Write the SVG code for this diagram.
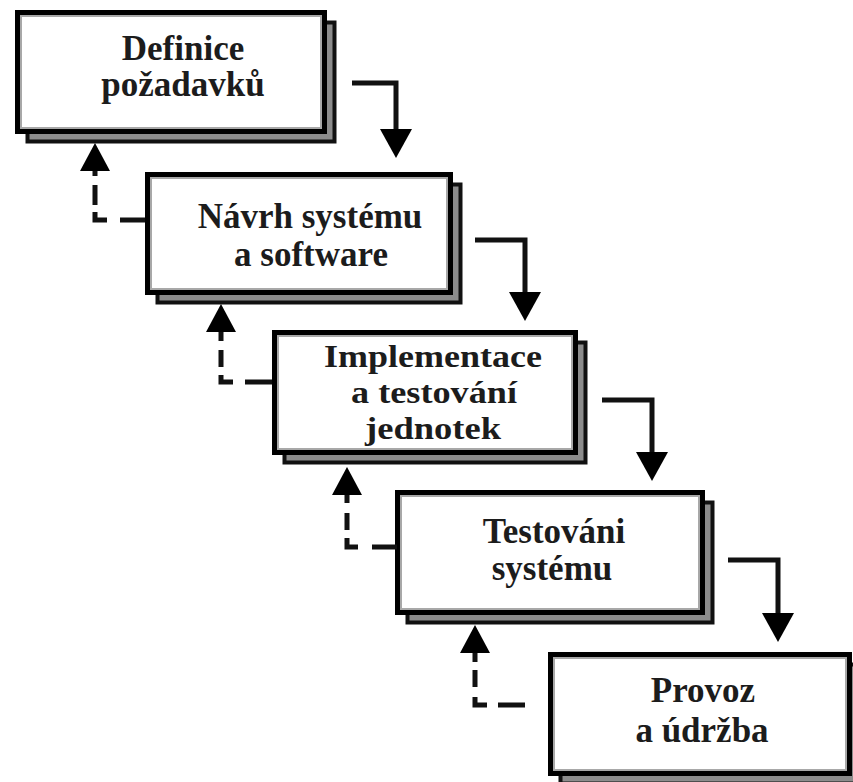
<svg xmlns="http://www.w3.org/2000/svg" xmlns:xlink="http://www.w3.org/1999/xlink" width="853" height="782" viewBox="0 0 853 782">
  <style>
    .shadow { fill: #8c8c8c; stroke: #111; stroke-width: 4; }
    .front { fill: #fff; stroke: #000; stroke-width: 5; }
    .inner { fill: none; stroke: #a8a8a8; stroke-width: 2; }
    .label { font-family: "Liberation Serif", "Times New Roman", serif; font-weight: bold; font-size: 35px; fill: #1c1c1c; text-anchor: middle; }
    .tight { font-size: 32px; }
    .flow { fill: none; stroke: #111; stroke-width: 5; stroke-linejoin: miter; stroke-linecap: butt; }
    .back { fill: none; stroke: #111; stroke-width: 5; stroke-linecap: butt; }
    .head { fill: #000; }
  </style>
  <defs>
    <polygon id="headDown" points="-16,0 16,0 0,29"/>
    <polygon id="headUp" points="-15,0 15,0 0,-28"/>
  </defs>
  <rect width="853" height="782" fill="#fff"/>

  <g id="node-definice">
    <rect class="shadow" x="27.5" y="22.5" width="307" height="119"/>
    <rect class="front" x="17.5" y="12.5" width="307" height="119"/>
    <rect class="inner" x="21" y="16" width="300" height="112"/>
    <text class="label" x="183" y="60">Definice</text>
    <text class="label" x="183" y="96">požadavků</text>
  </g>

  <g id="node-navrh">
    <rect class="shadow" x="157.5" y="184.5" width="303" height="118"/>
    <rect class="front" x="147.5" y="174.5" width="303" height="118"/>
    <rect class="inner" x="151" y="178" width="296" height="111"/>
    <text class="label" x="310" y="228">Návrh systému</text>
    <text class="label" x="311" y="266">a software</text>
  </g>

  <g id="node-implementace">
    <rect class="shadow" x="284.5" y="342.5" width="301" height="120"/>
    <rect class="front" x="274.5" y="332.5" width="301" height="120"/>
    <rect class="inner" x="278" y="336" width="294" height="113"/>
    <text class="label tight" x="433" y="367" textLength="218" lengthAdjust="spacingAndGlyphs">Implementace</text>
    <text class="label tight" x="434" y="403" textLength="166" lengthAdjust="spacingAndGlyphs">a testování</text>
    <text class="label tight" x="433" y="439" textLength="136" lengthAdjust="spacingAndGlyphs">jednotek</text>
  </g>

  <g id="node-testovani">
    <rect class="shadow" x="407.5" y="502.5" width="305" height="120"/>
    <rect class="front" x="397.5" y="492.5" width="305" height="120"/>
    <rect class="inner" x="401" y="496" width="298" height="113"/>
    <text class="label" x="554" y="543">Testováni</text>
    <text class="label" x="552" y="580">systému</text>
  </g>

  <g id="node-provoz">
    <rect class="shadow" x="560.5" y="664.5" width="299" height="119"/>
    <rect class="front" x="550.5" y="654.5" width="299" height="119"/>
    <rect class="inner" x="554" y="658" width="292" height="112"/>
    <text class="label" x="703" y="702">Provoz</text>
    <text class="label" x="702" y="742">a údržba</text>
  </g>

  <g id="connectors">
    <!-- forward flow: each phase hands over to the next -->
    <path class="flow" d="M352 83 H396 V131"/>
    <use class="head" xlink:href="#headDown" x="396" y="129"/>
    <path class="flow" d="M475 240 H525 V295"/>
    <use class="head" xlink:href="#headDown" x="525" y="292"/>
    <path class="flow" d="M602 400 H652 V455"/>
    <use class="head" xlink:href="#headDown" x="652" y="452"/>
    <path class="flow" d="M728 560 H778 V615"/>
    <use class="head" xlink:href="#headDown" x="778" y="613"/>

    <!-- dashed feedback to the previous phase -->
    <path class="back" d="M145 220 H120 M107 220 H95 V212 M95 205 V185 M95 176 V168"/>
    <use class="head" xlink:href="#headUp" x="95" y="171"/>
    <path class="back" d="M272 382 H245 M233 382 H221 V375 M221 367 V350 M221 341 V330"/>
    <use class="head" xlink:href="#headUp" x="221" y="332"/>
    <path class="back" d="M397 547 H372 M358 547 H347 V538 M347 530 V513 M347 503 V493"/>
    <use class="head" xlink:href="#headUp" x="347" y="495"/>
    <path class="back" d="M525 705 H498 M487 705 H475 V697 M475 687 V670 M475 662 V651"/>
    <use class="head" xlink:href="#headUp" x="475" y="653"/>
  </g>
</svg>
